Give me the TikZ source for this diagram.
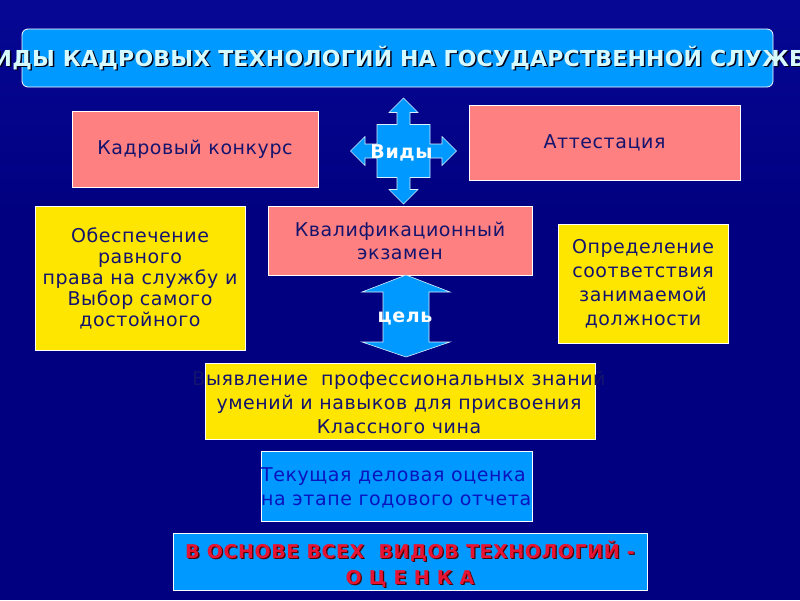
\documentclass[tikz,border=0pt]{standalone}
\usepackage{fontspec}
\setmainfont{DejaVu Sans}[LetterSpace=3]
\newfontfamily\titlefont{DejaVu Sans}[LetterSpace=1]
\newfontfamily\basefont{DejaVu Sans}[LetterSpace=3]
\usetikzlibrary{positioning}

\definecolor{bgnavy}{RGB}{0,0,128}
\definecolor{bgtop}{RGB}{6,8,148}
\definecolor{boxpink}{RGB}{255,128,128}
\definecolor{boxyellow}{RGB}{255,230,0}
\definecolor{boxblue}{RGB}{0,153,255}
\definecolor{textnavy}{RGB}{20,20,110}
\definecolor{textblue}{RGB}{10,20,190}
\definecolor{titletext}{RGB}{215,250,255}
\definecolor{basered}{RGB}{230,20,50}

\tikzset{
  card/.style={draw=white, line width=0.8pt, inner sep=0pt, align=center,
    text=textnavy, font=\fontsize{19}{21}\selectfont},
  pinkcard/.style={card, fill=boxpink},
  yellowcard/.style={card, fill=boxyellow},
  bluecard/.style={card, fill=boxblue},
  blockarrow/.style={fill=boxblue, draw=white!85!boxblue, line width=0.6pt},
  arrowlabel/.style={text=white, font=\bfseries\fontsize{19}{22}\selectfont}
}

\begin{document}
\begin{tikzpicture}[x=1pt, y=-1pt]
    \useasboundingbox (0,0) rectangle (800,600);
    \clip (0,0) rectangle (800,600);
    \fill[bgnavy] (0,0) rectangle (800,600);
    \shade[top color=bgtop, bottom color=bgnavy] (0,0) rectangle (800,220);

    \node (title) [draw=white, fill=boxblue, rounded corners=6pt, line width=0.8pt,
        minimum width=751pt, minimum height=58pt, inner sep=0pt] at (397.5,58) {};
    \node (titleshadow) [text=black!80!bgnavy, font=\titlefont\bfseries\fontsize{22}{24}\selectfont]
        at (400.5,59.5) {ВИДЫ КАДРОВЫХ ТЕХНОЛОГИЙ НА ГОСУДАРСТВЕННОЙ СЛУЖБЕ};
    \node (titletext) [text=titletext, font=\titlefont\bfseries\fontsize{22}{24}\selectfont]
        at (399,58) {ВИДЫ КАДРОВЫХ ТЕХНОЛОГИЙ НА ГОСУДАРСТВЕННОЙ СЛУЖБЕ};

    \node (konkurs) [pinkcard, minimum width=246pt, minimum height=76pt] at (195,149) {Кадровый конкурс};
    \node (attest) [pinkcard, minimum width=271pt, minimum height=75pt] at (604.5,142.5) {Аттестация};
    \node (exam) [pinkcard, minimum width=264pt, minimum height=69pt, font=\fontsize{19}{23}\selectfont] at (400,240.5) {Квалификационный\\экзамен};
    \node (equal) [yellowcard, minimum width=210pt, minimum height=144pt] at (140,278) {Обеспечение\\равного\\права на службу и\\Выбор самого\\ достойного};
    \node (fit) [yellowcard, minimum width=170pt, minimum height=119pt, font=\fontsize{19}{24}\selectfont] at (643,283.5) {Определение\\соответствия\\занимаемой\\должности};
    \node (skills) [yellowcard, minimum width=390pt, minimum height=76pt] at (400,401) {};
    \node (skillstext) [align=center, text=textnavy, inner sep=0pt, font=\fontsize{19}{24}\selectfont]
        at (399,402) {Выявление~ профессиональных знаний\\умений и навыков для присвоения\\Классного чина};
    \node (annual) [bluecard, minimum width=271pt, minimum height=70pt] at (396.5,486) {};
    \node (annualtext) [anchor=west, align=left, text=textblue, inner sep=0pt,
        font=\fontsize{19}{24}\selectfont] at (261,488) {Текущая деловая оценка\\на этапе годового отчета};
    \node (base) [bluecard, minimum width=474pt, minimum height=57pt] at (410,561.5) {};
    \node (baseshadow) [align=center, text=black!70!red, font=\basefont\bfseries\fontsize{19}{26}\selectfont]
        at (411.3,565.3) {В ОСНОВЕ ВСЕХ~ ВИДОВ ТЕХНОЛОГИЙ -\\О Ц Е Н К А};
    \node (basetext) [align=center, text=basered, font=\basefont\bfseries\fontsize{19}{26}\selectfont]
        at (410,564) {В ОСНОВЕ ВСЕХ~ ВИДОВ ТЕХНОЛОГИЙ -\\О Ц Е Н К А};

    \coordinate (kinds) at (403.5,151);
    \draw[blockarrow, shift={(kinds)}]
        (0,-53) -- (14.5,-38.5) -- (6.5,-38.5) -- (6.5,-26.5) -- (26.5,-26.5) -- (26.5,-7)
        -- (38.5,-7) -- (38.5,-14.5) -- (53,0) -- (38.5,14.5) -- (38.5,7) -- (26.5,7)
        -- (26.5,26.5) -- (6.5,26.5) -- (6.5,38.5) -- (14.5,38.5) -- (0,53) -- (-14.5,38.5)
        -- (-6.5,38.5) -- (-6.5,26.5) -- (-26.5,26.5) -- (-26.5,7) -- (-38.5,7) -- (-38.5,14.5)
        -- (-53,0) -- (-38.5,-14.5) -- (-38.5,-7) -- (-26.5,-7) -- (-26.5,-26.5) -- (-6.5,-26.5)
        -- (-6.5,-38.5) -- (-14.5,-38.5) -- cycle;
    \node (kindslabel) [arrowlabel] at (401.5,153) {Виды};

    \coordinate (goal) at (406,316);
    \draw[blockarrow, shift={(goal)}]
        (0,-41) -- (44,-24) -- (23,-24) -- (23,26) -- (44,26) -- (0,41)
        -- (-44,26) -- (-23,26) -- (-23,-24) -- (-44,-24) -- cycle;
    \node (goallabel) [arrowlabel] at (405,318) {цель};
\end{tikzpicture}
\end{document}
